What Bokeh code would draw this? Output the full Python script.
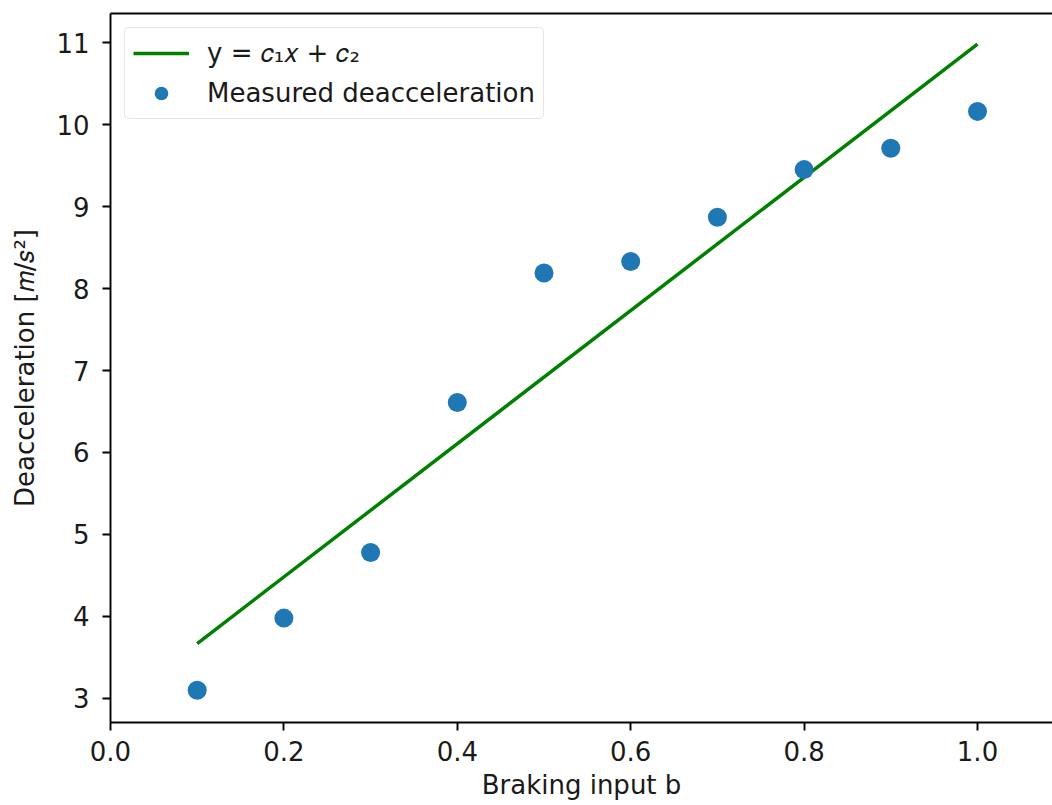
from bokeh.plotting import figure
from bokeh.models import (LinearAxis, FixedTicker, Range1d, Legend, LegendItem,
                          NumeralTickFormatter, Title)
from bokeh.embed import file_html
from bokeh.resources import INLINE

# Data
braking_input = [0.1, 0.2, 0.3, 0.4, 0.5, 0.6, 0.7, 0.8, 0.9, 1.0]
measured_decel = [3.10, 3.98, 4.78, 6.61, 8.19, 8.33, 8.87, 9.45, 9.71, 10.16]
fit_x = [0.1, 1.0]
fit_y = [3.67, 10.98]
x_ticks = [0.0, 0.2, 0.4, 0.6, 0.8, 1.0]
y_ticks = [3, 4, 5, 6, 7, 8, 9, 10, 11]

FONT = "DejaVu Sans"
FS = "26px"
TXT = "#1a1a1a"

p = figure(width=1052, height=805, output_backend="svg", toolbar_location=None,
           x_range=Range1d(0.0, 1.0865), y_range=Range1d(2.707, 11.354),
           min_border_left=110, min_border_right=0, min_border_top=13,
           min_border_bottom=83, x_axis_location=None, y_axis_location=None)
p.outline_line_color = None
p.xgrid.visible = False
p.ygrid.visible = False
p.background_fill_color = "white"
p.border_fill_color = "white"

def style_axis(ax):
    ax.axis_line_color = "black"
    ax.axis_line_width = 1.9
    ax.major_tick_line_color = "black"
    ax.major_tick_line_width = 1.9
    ax.major_tick_out = 8
    ax.major_tick_in = 0
    ax.minor_tick_line_color = None
    ax.major_label_text_font = FONT
    ax.major_label_text_font_size = FS
    ax.major_label_text_color = TXT
    ax.axis_label_text_font = FONT
    ax.axis_label_text_font_size = FS
    ax.axis_label_text_font_style = "normal"
    ax.axis_label_text_color = TXT

xaxis = LinearAxis(ticker=FixedTicker(ticks=x_ticks),
                   formatter=NumeralTickFormatter(format="0.0"))
style_axis(xaxis)
xaxis.major_label_standoff = 10
p.add_layout(xaxis, "below")

# x-axis title, centred on the full axes span of the original (which runs past the crop)
xtitle = Title(text="Braking input b", align="center", offset=6, standoff=9,
               vertical_align="bottom",
               text_font=FONT, text_font_size=FS, text_font_style="normal",
               text_color=TXT)
p.add_layout(xtitle, "below")

yaxis = LinearAxis(ticker=FixedTicker(ticks=y_ticks),
                   axis_label="Deacceleration [𝑚/𝑠²]")
style_axis(yaxis)
yaxis.major_label_standoff = 13
yaxis.axis_label_standoff = 13
p.add_layout(yaxis, "left")

top = LinearAxis(ticker=FixedTicker(ticks=[]))
top.axis_line_color = "black"
top.axis_line_width = 1.9
top.major_tick_line_color = None
top.minor_tick_line_color = None
top.major_label_text_font_size = "0px"
p.add_layout(top, "above")

line = p.line(fit_x, fit_y, line_color="#008000", line_width=3.5)
pts = p.scatter(braking_input, measured_decel, size=19, fill_color="#1f77b4",
                line_color="#1f77b4", line_width=0)

legend = Legend(items=[LegendItem(label="y = 𝑐₁𝑥 + 𝑐₂", renderers=[line]),
                       LegendItem(label="Measured deacceleration", renderers=[pts])],
                location="top_left")
legend.margin = 14
legend.padding = 8
legend.spacing = 6
legend.glyph_width = 56
legend.glyph_height = 34
legend.label_standoff = 18
legend.label_text_font = FONT
legend.label_text_font_size = FS
legend.label_text_color = TXT
legend.border_line_color = "#cccccc"
legend.border_line_width = 1.5
legend.background_fill_alpha = 0.8
legend.border_radius = 5
p.add_layout(legend, "center")

open("out.html", "w").write(file_html(p, INLINE))
